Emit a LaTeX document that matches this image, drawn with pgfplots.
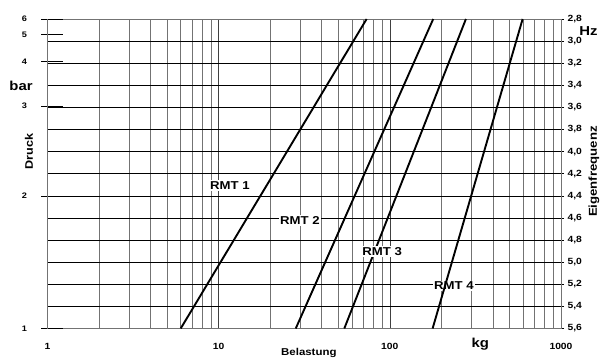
\documentclass[border=0pt]{standalone}
\usepackage{fontspec}
\setmainfont{Liberation Sans}[FakeStretch=1.15]
\usepackage{pgfplots}
\pgfplotsset{compat=1.18}
\begin{document}
\begin{tikzpicture}
\useasboundingbox (0,0) rectangle (604bp,360bp);
\begin{axis}[
  at={(47.5bp,31.5bp)}, anchor=south west, scale only axis,
  width=513.5bp, height=309.5bp,
  xmode=log, xmin=1, xmax=1000,
  ymin=2.8, ymax=5.6, y dir=reverse,
  xtick={1,10,100,1000}, xticklabels={1,10,100,1000},
  minor xtick={2,3,4,5,6,7,8,9,20,30,40,50,60,70,80,90,200,300,400,500,600,700,800,900},
  xmajorgrids, xminorgrids,
  major x grid style={black!75, line width=0.6pt},
  minor x grid style={black!55, line width=0.6pt},
  xtick style={draw=none}, minor tick length=0pt,
  xticklabel style={yshift=-8bp},
  ytick={2.8,3.0,3.2,3.4,3.6,3.8,4.0,4.2,4.4,4.6,4.8,5.0,5.2,5.4,5.6},
  yticklabels={{2,8},{3,0},{3,2},{3,4},{3,6},{3,8},{4,0},{4,2},{4,4},{4,6},{4,8},{5,0},{5,2},{5,4},{5,6}},
  ytick pos=right, yticklabel pos=right,
  ymajorgrids, major y grid style={black, line width=0.6pt},
  ytick style={black, line width=0.6pt},
  tick align=outside, major tick length=3bp,
  axis line style={black!55, line width=0.8pt},
  tick label style={font=\bfseries\fontsize{9}{10}\selectfont},
  clip=false,
]
\addplot[black, line width=1.9pt] coordinates {(6.0,5.6) (73.2,2.8)};
\addplot[black, line width=1.9pt] coordinates {(28.2,5.6) (179.3,2.8)};
\addplot[black, line width=1.9pt] coordinates {(54.2,5.6) (278.3,2.8)};
\node[fill=white, inner sep=1.5pt, font=\bfseries\fontsize{11.5}{12}\selectfont] at (axis cs:11.64,4.31) {RMT 1};
\node[fill=white, inner sep=1.5pt, font=\bfseries\fontsize{11.5}{12}\selectfont] at (axis cs:29.8,4.62) {RMT 2};
\node[fill=white, inner sep=1.5pt, font=\bfseries\fontsize{11.5}{12}\selectfont] at (axis cs:90.3,4.905) {RMT 3};
\node[fill=white, inner sep=1.5pt, font=\bfseries\fontsize{11.5}{12}\selectfont] at (axis cs:236.7,5.216) {RMT 4};
\node[font=\bfseries\fontsize{13}{14}\selectfont] at (axis description cs:-0.0516,0.7835) {bar};
\node[font=\bfseries\fontsize{13}{14}\selectfont] at (axis description cs:1.0536,0.962) {Hz};
\node[font=\bfseries\fontsize{13}{14}\selectfont] at (axis description cs:0.843,-0.050) {kg};
\node[font=\bfseries\fontsize{10}{11}\selectfont] at (axis description cs:0.509,-0.079) {Belastung};
\node[font=\bfseries\fontsize{11}{12}\selectfont, rotate=90] at (axis description cs:-0.036,0.571) {Druck};
\node[font=\bfseries\fontsize{11.5}{12}\selectfont, rotate=90] at (axis description cs:1.064,0.507) {Eigenfrequenz};
\end{axis}
\begin{axis}[
  at={(47.5bp,31.5bp)}, anchor=south west, scale only axis,
  width=513.5bp, height=309.5bp,
  xmode=log, xmin=1, xmax=1000,
  ymin=2.8, ymax=5.6, y dir=reverse,
  hide x axis,
  axis y line*=left,
  axis line style={black!55, line width=0.8pt},
  ytick={2.8,2.942,3.183,3.587,4.401,5.6},
  yticklabels={6,5,4,3,2,1},
  tick align=center, major tick length=22bp,
  ytick style={black, line width=0.8pt, xshift=4.5bp},
  yticklabel style={xshift=-6bp},
  tick label style={font=\bfseries\fontsize{8}{9}\selectfont},
  clip=false,
]
\addplot[black, line width=1.9pt] coordinates {(177.8,5.6) (596.9,2.8)};
\end{axis}
\end{tikzpicture}
\end{document}
